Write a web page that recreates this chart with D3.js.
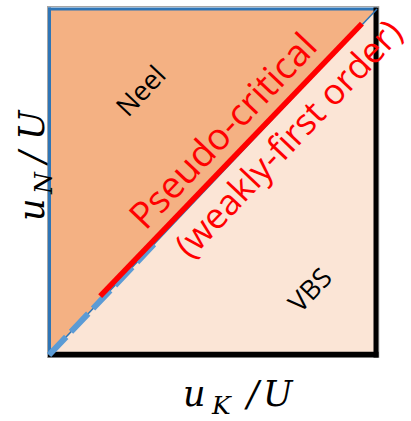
<!DOCTYPE html>
<html>
<head>
<meta charset="utf-8">
<script src="https://cdn.jsdelivr.net/npm/d3@7"></script>
<style>
  html, body { margin: 0; padding: 0; background: #fff; }
  svg { display: block; }
</style>
</head>
<body>
<svg id="chart" width="411" height="421"></svg>
<script>
// phase diagram in (u_K/U, u_N/U), both normalised to [0, 1]
var neelRegion = [[0, 0], [0, 1], [1, 1]];
var vbsRegion = [[0, 0], [1, 0], [1, 1]];
var boundary = [[0, 0], [1, 1]];
var dashedPart = [[0, 0], [0.32, 0.32]];
var pseudoCritical = [[0.156, 0.170], [0.954, 0.958]];

var regionLabels = [
    {text: 'Neel', pos: [0.28, 0.763], size: 27, color: '#000'},
    {text: 'VBS', pos: [0.796, 0.188], size: 27, color: '#000'},
    {text: 'Pseudo-critical', pos: [0.53, 0.648], size: 37, color: '#ff0000'},
    {text: '(weakly-first order)', pos: [0.73, 0.625], size: 35.5, color: '#ff0000'}
];

var svg = d3.select('#chart');

var x = d3.scaleLinear().domain([0, 1]).range([49, 377]);
var y = d3.scaleLinear().domain([0, 1]).range([355, 9]);

var line = d3.line()
    .x(function(d) { return x(d[0]); })
    .y(function(d) { return y(d[1]); });

// angle of the diagonal on screen
var angle = Math.atan2(y(1) - y(0), x(1) - x(0)) * 180 / Math.PI;

svg.append('path')
    .attr('d', line(neelRegion) + 'Z')
    .attr('fill', '#f4b183');

svg.append('path')
    .attr('d', line(vbsRegion) + 'Z')
    .attr('fill', '#fbe5d6');

// frame: grey outline, blue top/left, heavy black right/bottom
svg.append('rect')
    .attr('x', x(0) - 1.5)
    .attr('y', y(1) - 2.5)
    .attr('width', x(1) - x(0) + 3.3)
    .attr('height', y(0) - y(1) + 5)
    .attr('fill', 'none')
    .attr('stroke', '#a6a6a6')
    .attr('stroke-width', 1);

svg.append('line')
    .attr('x1', x(0) + 0.5).attr('x2', x(0) + 0.5)
    .attr('y1', y(1) - 1.5).attr('y2', y(0))
    .attr('stroke', '#2e75b6').attr('stroke-width', 3);

svg.append('line')
    .attr('x1', x(0) - 1).attr('x2', x(1))
    .attr('y1', y(1)).attr('y2', y(1))
    .attr('stroke', '#2e75b6').attr('stroke-width', 3);

svg.append('line')
    .attr('x1', x(1) - 1).attr('x2', x(1) - 1)
    .attr('y1', y(1) - 1.5).attr('y2', y(0) + 2.5)
    .attr('stroke', '#000').attr('stroke-width', 5);

svg.append('line')
    .attr('x1', x(0) - 1).attr('x2', x(1) + 1.5)
    .attr('y1', y(0) - 0.5).attr('y2', y(0) - 0.5)
    .attr('stroke', '#000').attr('stroke-width', 5.5);

// phase boundary
svg.append('path')
    .attr('d', line(boundary))
    .attr('fill', 'none')
    .attr('stroke', '#2e75b6')
    .attr('stroke-width', 1.5);

svg.append('path')
    .attr('d', line(dashedPart))
    .attr('fill', 'none')
    .attr('stroke', '#5b9bd5')
    .attr('stroke-width', 6)
    .attr('stroke-dasharray', '25 7');

svg.append('path')
    .attr('d', line(pseudoCritical))
    .attr('fill', 'none')
    .attr('stroke', '#ff0000')
    .attr('stroke-width', 5.5);

svg.selectAll('text.region')
    .data(regionLabels)
    .enter().append('text')
    .attr('class', 'region')
    .attr('transform', function(d) {
        return 'translate(' + x(d.pos[0]) + ',' + y(d.pos[1]) + ') rotate(' + angle + ')';
    })
    .attr('text-anchor', 'middle')
    .attr('dy', '0.35em')
    .style('font-family', '"Open Sans", sans-serif')
    .style('font-size', function(d) { return d.size + 'px'; })
    .attr('fill', function(d) { return d.color; })
    .text(function(d) { return d.text; });

// axis titles, math italic with subscripts
function mathLabel(g, sub, parts) {
    var t = g.append('text')
        .style('font-family', '"DejaVu Serif", serif')
        .style('font-style', 'italic')
        .attr('fill', '#000');
    t.append('tspan').attr('x', parts[0]).style('font-size', '35px').text('u');
    t.append('tspan').attr('x', parts[1]).attr('dy', 8).style('font-size', '25px').text(sub);
    t.append('tspan').attr('x', parts[2]).attr('dy', -8).style('font-size', '35px').text('/');
    t.append('tspan').attr('x', parts[3]).style('font-size', '35px').text('U');
    return t;
}

var xTitle = svg.append('g').attr('transform', 'translate(183,406)');
mathLabel(xTitle, 'K', [0, 29, 64, 80]);

var yTitle = svg.append('g').attr('transform', 'translate(44,221) rotate(-90)');
mathLabel(yTitle, 'N', [0, 27, 58, 81]);
</script>
</body>
</html>
